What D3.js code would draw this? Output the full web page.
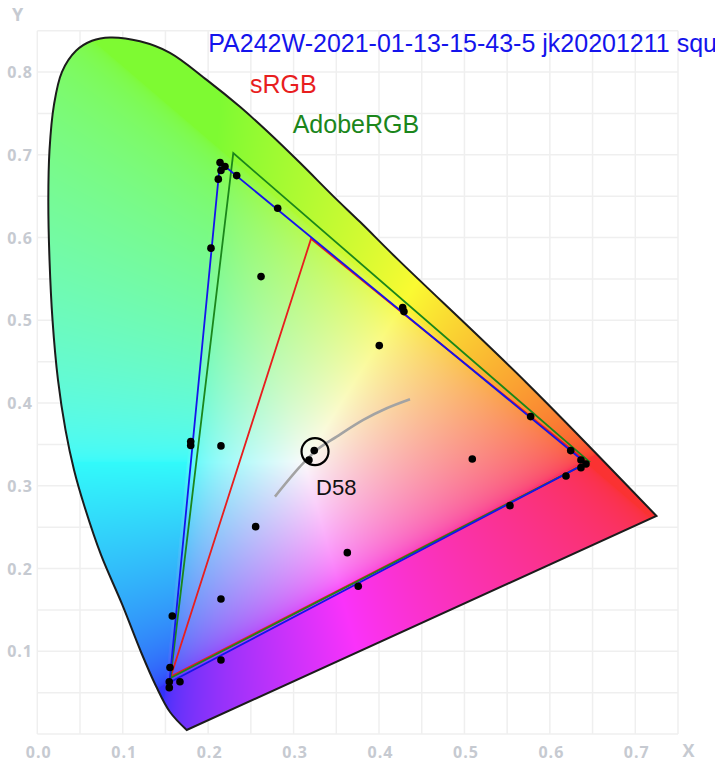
<!DOCTYPE html>
<html lang="en">
<head>
<meta charset="UTF-8">
<title>CIE 1931 gamut</title>
<script src="https://cdn.jsdelivr.net/npm/d3@7"></script>
<style>
    body { margin: 0; background: #fff; }
    svg text { font-family: "Liberation Sans", Arial, sans-serif; }
    .tick-label {
        font-family: "Open Sans", sans-serif;
        font-weight: 700;
        font-size: 16px;
        fill: #c6cad1;
        letter-spacing: 1px;
    }
    .grid line { stroke: #efefef; stroke-width: 1.5; }
</style>
</head>
<body>
<svg width="715" height="765"></svg>
<script>
    // spectral locus as it is drawn in the picture (x, y chromaticity)
    var locus = [
        [0.1749, 0.0048], [0.1553, 0.0266], [0.1389, 0.0580], [0.1214, 0.0991],
        [0.0991, 0.1572], [0.0746, 0.2164], [0.0547, 0.2768], [0.0430, 0.3191],
        [0.0330, 0.3675], [0.0242, 0.4279], [0.0178, 0.5005], [0.0143, 0.5730],
        [0.0129, 0.6455], [0.0143, 0.7060], [0.0195, 0.7604], [0.0289, 0.8003],
        [0.0453, 0.8257], [0.0640, 0.8378], [0.0851, 0.8418], [0.1202, 0.8372],
        [0.1553, 0.8233], [0.1983, 0.7906], [0.2373, 0.7580], [0.2685, 0.7290],
        [0.3075, 0.6903], [0.3461, 0.6504], [0.3777, 0.6190], [0.4226, 0.5730],
        [0.5729, 0.4243], [0.7248, 0.2635]
    ];

    // gamut triangles: red, green, blue primaries
    var srgb = [[0.6440, 0.3282], [0.3204, 0.5984], [0.1562, 0.0693]];
    var adobe = [[0.6461, 0.3292], [0.2294, 0.7020], [0.1559, 0.0677]];
    var measured = [[0.6423, 0.3272], [0.2139, 0.6909], [0.1547, 0.0623]];

    // measured patches
    var patches = [
        [0.2139, 0.6906], [0.2197, 0.6858], [0.2150, 0.6810], [0.2119, 0.6706],
        [0.2334, 0.6749], [0.2814, 0.6355], [0.2033, 0.5872], [0.2619, 0.5528],
        [0.4277, 0.5154], [0.4292, 0.5105], [0.4003, 0.4694], [0.5775, 0.3836],
        [0.6244, 0.3425], [0.6364, 0.3312], [0.6423, 0.3264], [0.6364, 0.3219],
        [0.6189, 0.3119], [0.5533, 0.2760], [0.5092, 0.3324], [0.3242, 0.3425],
        [0.3180, 0.3312], [0.2150, 0.3482], [0.1796, 0.3534], [0.1796, 0.3488],
        [0.2556, 0.2506], [0.3629, 0.2192], [0.3757, 0.1786], [0.2150, 0.1632],
        [0.1580, 0.1427], [0.2150, 0.0895], [0.1553, 0.0804], [0.1670, 0.0632],
        [0.1545, 0.0632], [0.1545, 0.0560]
    ];

    // black body curve
    var planck = [
        [0.2782, 0.2869], [0.3075, 0.3231], [0.3271, 0.3433], [0.3505, 0.3594],
        [0.3816, 0.3796], [0.4090, 0.3937], [0.4363, 0.4046]
    ];

    var whitePoint = [0.3251, 0.3413];
    var whiteName = "D58";

    var xTicks = [0.0, 0.1, 0.2, 0.3, 0.4, 0.5, 0.6, 0.7];
    var yTicks = [0.1, 0.2, 0.3, 0.4, 0.5, 0.6, 0.7, 0.8];

    var titles = [
        {text: "PA242W-2021-01-13-15-43-5 jk20201211 squ", color: "#1414ec"},
        {text: "sRGB", color: "#e81e1e"},
        {text: "AdobeRGB", color: "#1b861b"}
    ];

    var svg = d3.select("svg");

    var x = d3.scaleLinear().domain([0, 0.75]).range([37.3, 678]);
    var y = d3.scaleLinear().domain([0, 0.85]).range([734, 30.7]);

    // grid
    var grid = svg.append("g").attr("class", "grid");
    grid.selectAll("line.v")
        .data(x.ticks(15))
        .enter().append("line")
        .attr("class", "v")
        .attr("x1", function (d) { return x(d); })
        .attr("x2", function (d) { return x(d); })
        .attr("y1", y(0))
        .attr("y2", y(0.85));
    grid.selectAll("line.h")
        .data(y.ticks(17))
        .enter().append("line")
        .attr("class", "h")
        .attr("x1", x(0))
        .attr("x2", x(0.75))
        .attr("y1", function (d) { return y(d); })
        .attr("y2", function (d) { return y(d); });

    // tick labels
    svg.append("g").selectAll("text")
        .data(xTicks)
        .enter().append("text")
        .attr("class", "tick-label")
        .attr("x", function (d) { return x(d) + 1.5; })
        .attr("y", 758)
        .attr("text-anchor", "middle")
        .text(function (d) { return d.toFixed(1); });

    svg.append("g").selectAll("text")
        .data(yTicks)
        .enter().append("text")
        .attr("class", "tick-label")
        .attr("x", 33)
        .attr("y", function (d) { return y(d) + 6; })
        .attr("text-anchor", "end")
        .text(function (d) { return d.toFixed(1); });

    svg.append("text").attr("class", "tick-label")
        .attr("x", 18).attr("y", 21).attr("text-anchor", "middle")
        .style("font-size", "18px").text("Y");
    svg.append("text").attr("class", "tick-label")
        .attr("x", 689).attr("y", 757).attr("text-anchor", "middle")
        .style("font-size", "18px").text("X");

    // locus path
    var locusLine = d3.line()
        .x(function (d) { return x(d[0]); })
        .y(function (d) { return y(d[1]); })
        .curve(d3.curveCatmullRom.alpha(0.5));
    var locusPath = locusLine(locus) + "Z";

    svg.append("clipPath").attr("id", "locus-clip")
        .append("path").attr("d", locusPath);

    // colour fill: xyY -> RGB, negatives clipped, greens pushed towards lime
    function chroma(cx, cy) {
        if (cy <= 0.001) return [255, 255, 255];
        var X = cx / cy, Y = 1, Z = (1 - cx - cy) / cy;
        var r = 2.0414 * X - 0.5649 * Y - 0.3447 * Z;
        var g = -0.9693 * X + 1.8760 * Y + 0.0416 * Z;
        var b = 0.0134 * X - 0.1184 * Y + 1.0154 * Z;
        r = Math.max(r, 0); g = Math.max(g, 0); b = Math.max(b, 0);
        r += 0.12 * Math.max(0, g - Math.max(r, b));
        var m = Math.max(r, g, b) || 1;
        var w = 0.2;
        return [r, g, b].map(function (c) {
            var v = Math.pow(c / m, 1 / 2.2);
            v = v * (1 - w) + w;
            return Math.round(v * 250);
        });
    }

    var px0 = Math.floor(x.range()[0]), py0 = Math.floor(y.range()[1]);
    var W = Math.ceil(x.range()[1]) - px0, H = Math.ceil(y.range()[0]) - py0;
    var canvas = document.createElement("canvas");
    canvas.width = W;
    canvas.height = H;
    var ctx = canvas.getContext("2d");
    var img = ctx.createImageData(W, H);
    for (var j = 0; j < H; j++) {
        var cy = y.invert(py0 + j + 0.5);
        for (var i = 0; i < W; i++) {
            var cx = x.invert(px0 + i + 0.5);
            var c = chroma(cx, cy);
            var k = (j * W + i) * 4;
            img.data[k] = c[0];
            img.data[k + 1] = c[1];
            img.data[k + 2] = c[2];
            img.data[k + 3] = 255;
        }
    }
    ctx.putImageData(img, 0, 0);

    svg.append("image")
        .attr("x", px0).attr("y", py0)
        .attr("width", W).attr("height", H)
        .attr("href", canvas.toDataURL())
        .attr("clip-path", "url(#locus-clip)");

    svg.append("path")
        .attr("d", locusPath)
        .attr("fill", "none")
        .attr("stroke", "#1c1c1c")
        .attr("stroke-width", 2);

    // triangles
    var tri = d3.line()
        .x(function (d) { return x(d[0]); })
        .y(function (d) { return y(d[1]); });

    [[srgb, "#e81e1e"], [adobe, "#1b861b"], [measured, "#1414ec"]].forEach(function (t) {
        svg.append("path")
            .attr("d", tri(t[0]) + "Z")
            .attr("fill", "none")
            .attr("stroke", t[1])
            .attr("stroke-width", 1.8);
    });

    // black body curve
    svg.append("path")
        .attr("d", d3.line()
            .x(function (d) { return x(d[0]); })
            .y(function (d) { return y(d[1]); })
            .curve(d3.curveCatmullRom)(planck))
        .attr("fill", "none")
        .attr("stroke", "#a3a3a3")
        .attr("stroke-width", 2.5);

    // patches
    svg.append("g").selectAll("circle")
        .data(patches)
        .enter().append("circle")
        .attr("cx", function (d) { return x(d[0]); })
        .attr("cy", function (d) { return y(d[1]); })
        .attr("r", 3.8)
        .attr("fill", "#000");

    // white point
    svg.append("circle")
        .attr("cx", x(whitePoint[0]))
        .attr("cy", y(whitePoint[1]))
        .attr("r", 13.5)
        .attr("fill", "none")
        .attr("stroke", "#000")
        .attr("stroke-width", 2.2);
    svg.append("text")
        .attr("x", x(whitePoint[0]) + 1)
        .attr("y", y(whitePoint[1]) + 43)
        .style("font-size", "22px")
        .attr("fill", "#111")
        .text(whiteName);

    // titles
    svg.append("g").selectAll("text")
        .data(titles)
        .enter().append("text")
        .attr("x", function (d, i) { return [208.3, 250, 292.7][i]; })
        .attr("y", function (d, i) { return [51.7, 92.7, 133.3][i]; })
        .style("font-size", "25px")
        .attr("fill", function (d) { return d.color; })
        .text(function (d) { return d.text; });
</script>
</body>
</html>
